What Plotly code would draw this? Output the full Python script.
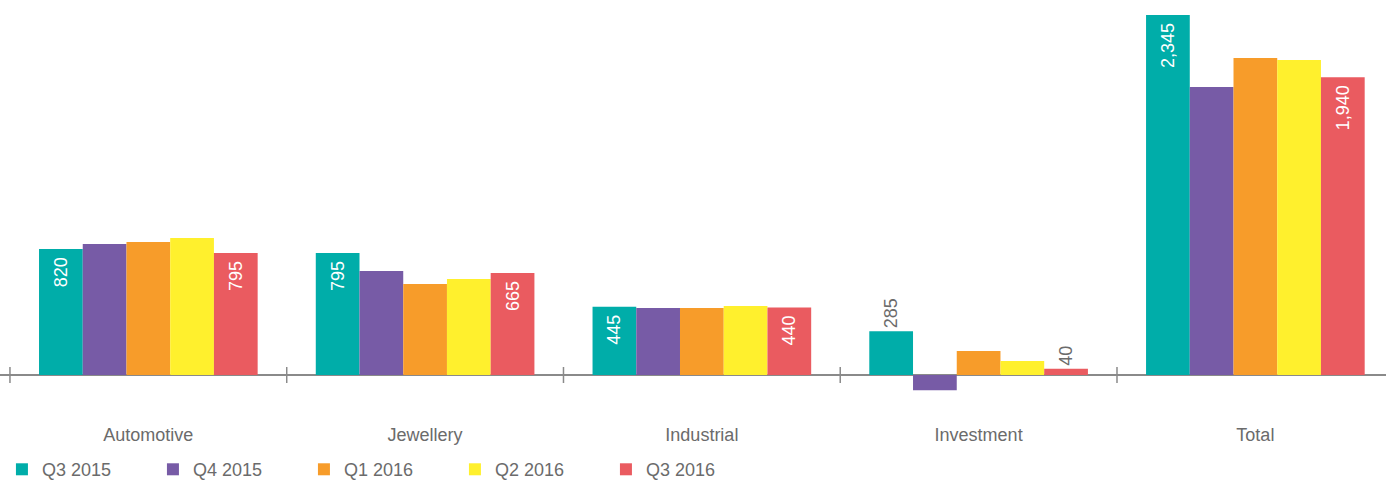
import plotly.graph_objects as go

categories = ['Automotive', 'Jewellery', 'Industrial', 'Investment', 'Total']
periods = ['Q3 2015', 'Q4 2015', 'Q1 2016', 'Q2 2016', 'Q3 2016']

q3_2015 = [820, 795, 445, 285, 2345]
q4_2015 = [853, 677, 436, -100, 1876]
q1_2016 = [866, 593, 436, 156, 2065]
q2_2016 = [892, 625, 450, 91, 2052]
q3_2016 = [795, 665, 440, 40, 1940]

series = [q3_2015, q4_2015, q1_2016, q2_2016, q3_2016]
labelled = [True, False, False, False, True]
colors = ['#00ADA9', '#775BA6', '#F79C2A', '#FFF02D', '#EA5B60']

grey = '#6b6b6b'
font_family = 'Liberation Sans, Arial, sans-serif'

fig = go.Figure()
for name, vals, col, lab in zip(periods, series, colors, labelled):
    bar = dict(
        x=categories,
        y=vals,
        name=name,
        marker=dict(color=col, line=dict(width=0)),
    )
    if lab:
        bar.update(
            # trailing nbsp pushes the inside labels a little away from the bar top
            texttemplate='%{y:,.0f}\u00a0',
            textposition=['inside' if v > 300 else 'outside' for v in vals],
            textangle=-90,
            insidetextanchor='end',
            insidetextfont=dict(color='white', size=18, family=font_family),
            outsidetextfont=dict(color=grey, size=18, family=font_family),
            cliponaxis=False,
            constraintext='none',
        )
    fig.add_trace(go.Bar(**bar))

# tick marks crossing the zero line at category boundaries
for i in range(len(categories) + 1):
    fig.add_shape(
        type='line', xref='x', yref='y',
        x0=i - 0.5, x1=i - 0.5,
        ysizemode='pixel', yanchor=0, y0=-8, y1=8,
        line=dict(color='#8a8a8a', width=1.5),
    )

fig.update_layout(
    width=1386,
    height=481,
    barmode='group',
    bargap=0.21,
    bargroupgap=0,
    plot_bgcolor='white',
    paper_bgcolor='white',
    font=dict(family=font_family, size=18, color=grey),
    margin=dict(l=0, r=0, t=10, b=81, pad=0, autoexpand=False),
    showlegend=True,
    legend=dict(
        orientation='h',
        x=0.0014, xanchor='left',
        y=-0.131, yanchor='top',
        entrywidth=106, entrywidthmode='pixels',
        font=dict(size=18, color=grey),
        traceorder='normal',
    ),
    xaxis=dict(
        range=[-0.536, 4.472],
        showgrid=False,
        showline=False,
        ticks='',
        ticklabelstandoff=22,
        tickfont=dict(size=18, color=grey),
    ),
    yaxis=dict(
        range=[-162.8, 2377.5],
        showgrid=False,
        showticklabels=False,
        zeroline=True,
        zerolinecolor='#8a8a8a',
        zerolinewidth=1.5,
        showline=False,
        ticks='',
    ),
)

fig.write_html('out.html', config={'displayModeBar': False},
               post_script="document.body.style.margin='0';")
